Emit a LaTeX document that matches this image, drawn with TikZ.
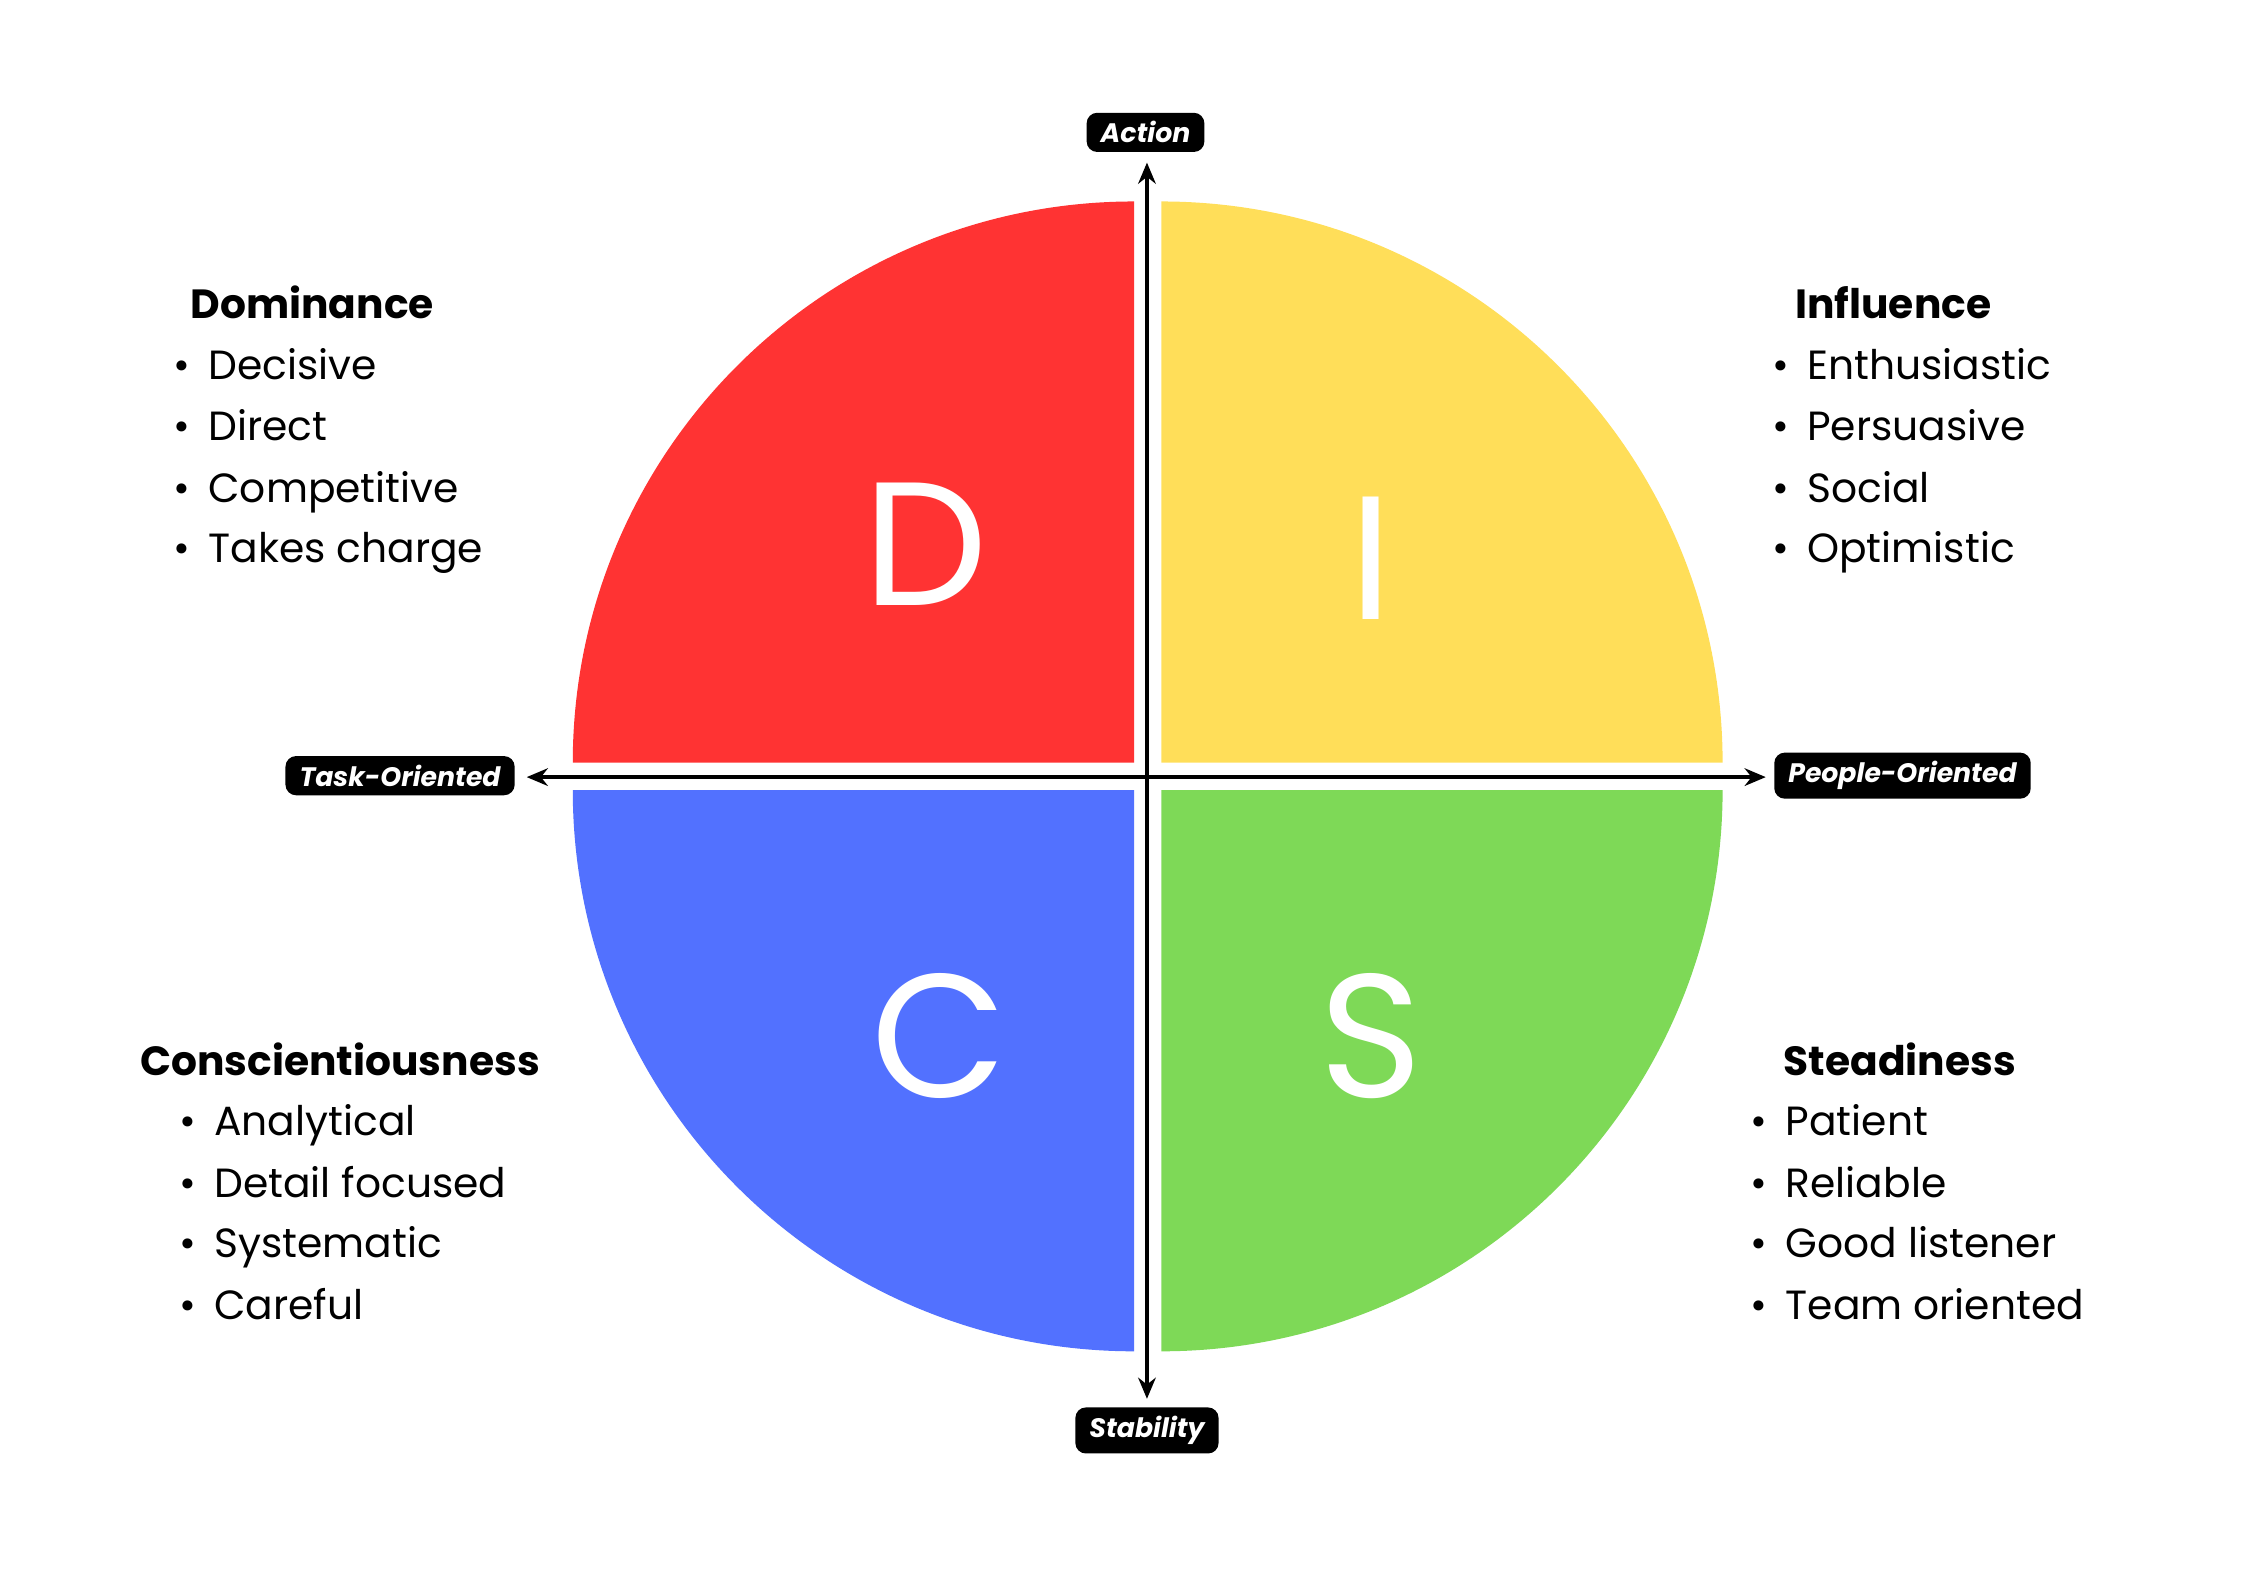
\documentclass[tikz,border=0pt]{standalone}
\usepackage{fontspec}
\setmainfont{Poppins}
\usetikzlibrary{arrows.meta}
\definecolor{cD}{HTML}{FF3333}
\definecolor{cI}{HTML}{FFDE59}
\definecolor{cC}{HTML}{5271FF}
\definecolor{cS}{HTML}{7ED957}
\begin{document}
\begin{tikzpicture}[x=0.014391cm,y=-0.014391cm,
  axlab/.style={fill=black,text=white,rounded corners=3pt,font=\fontsize{7.6}{9}\selectfont\bfseries\itshape,inner xsep=4pt,inner ysep=2.5pt},
  big/.style={text=white,font=\fontsize{50}{50}\selectfont},
  title/.style={anchor=base west,inner sep=0pt,font=\fontsize{11.6}{14}\selectfont\bfseries},
  item/.style={anchor=base west,inner sep=0pt,font=\fontsize{11.6}{14}\selectfont},
  ax/.style={-{Stealth[length=6pt,width=5pt]},line width=1.3pt}]
\useasboundingbox (0,0) rectangle (1560,1103);
\fill[cD] (788,530) -- (398,530) arc[start angle=180,end angle=270,radius=390] -- cycle;
\fill[cI] (807,530) -- (807,140) arc[start angle=270,end angle=360,radius=390] -- cycle;
\fill[cC] (788,549) -- (788,939) arc[start angle=90,end angle=180,radius=390] -- cycle;
\fill[cS] (807,549) -- (1197,549) arc[start angle=0,end angle=90,radius=390] -- cycle;
\node[big] (D) at (643,378) {D};
\node[big] (I) at (953,388) {I};
\node[big] (C) at (653,720) {C};
\node[big] (S) at (953,720) {S};
\node[axlab] (act) at (796,92) {Action};
\node[axlab] (sta) at (797,994) {Stability};
\node[axlab] (task) at (278,539) {Task-Oriented};
\node[axlab] (peo) at (1322,539) {People-Oriented};
\coordinate (ctr) at (797,540);
\coordinate (top) at (797,113);
\coordinate (bot) at (797,972);
\coordinate (lft) at (366,540);
\coordinate (rgt) at (1227,540);
\draw[ax] (ctr) -- (top);
\draw[ax] (ctr) -- (bot);
\draw[ax] (ctr) -- (lft);
\draw[ax] (ctr) -- (rgt);
\node[title] (dt) at (132,221) {Dominance};
\node[item] (d1) at (120,264) {•\hspace{0.45em}Decisive};
\node[item] (d2) at (120,306) {•\hspace{0.45em}Direct};
\node[item] (d3) at (120,349) {•\hspace{0.45em}Competitive};
\node[item] (d4) at (120,391) {•\hspace{0.45em}Takes charge};
\node[title] (it) at (1247,221) {Influence};
\node[item] (i1) at (1231,264) {•\hspace{0.45em}Enthusiastic};
\node[item] (i2) at (1231,306) {•\hspace{0.45em}Persuasive};
\node[item] (i3) at (1231,349) {•\hspace{0.45em}Social};
\node[item] (i4) at (1231,391) {•\hspace{0.45em}Optimistic};
\node[title] (ct) at (97,747) {Conscientiousness};
\node[item] (c1) at (124,789) {•\hspace{0.45em}Analytical};
\node[item] (c2) at (124,832) {•\hspace{0.45em}Detail focused};
\node[item] (c3) at (124,874) {•\hspace{0.45em}Systematic};
\node[item] (c4) at (124,917) {•\hspace{0.45em}Careful};
\node[title] (st) at (1239,747) {Steadiness};
\node[item] (s1) at (1216,789) {•\hspace{0.45em}Patient};
\node[item] (s2) at (1216,832) {•\hspace{0.45em}Reliable};
\node[item] (s3) at (1216,874) {•\hspace{0.45em}Good listener};
\node[item] (s4) at (1216,917) {•\hspace{0.45em}Team oriented};
\end{tikzpicture}
\end{document}
